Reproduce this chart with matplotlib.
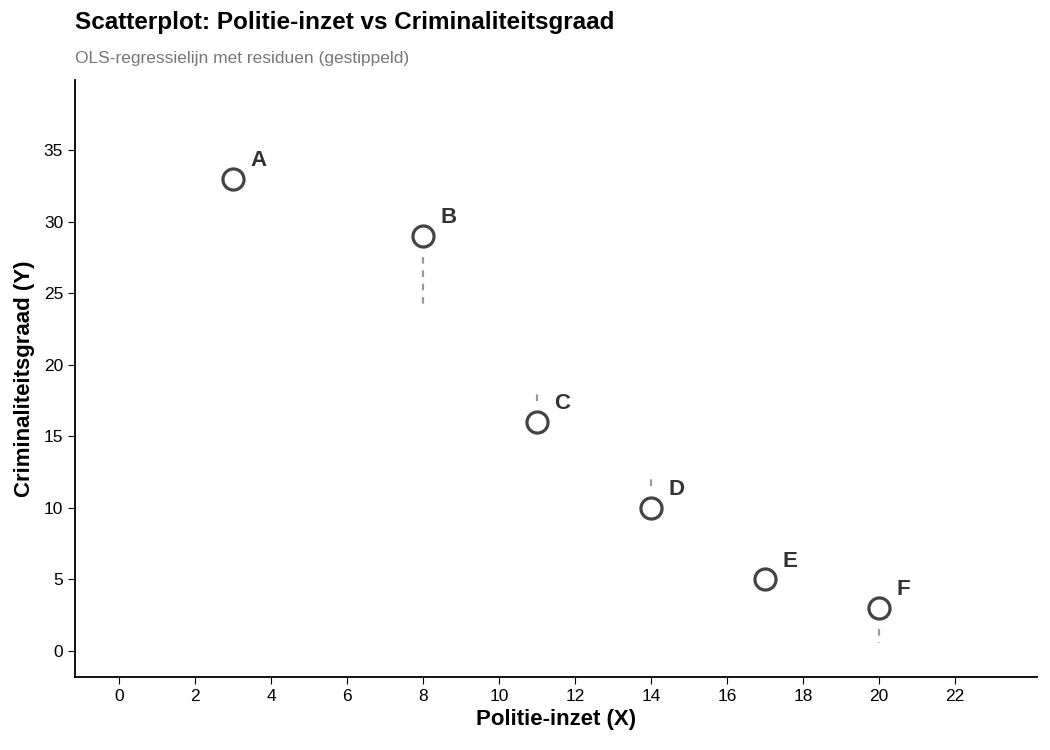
import matplotlib
matplotlib.use("Agg")
import matplotlib.pyplot as plt
import numpy as np

labels = ["A", "B", "C", "D", "E", "F"]
x = np.array([3, 8, 11, 14, 17, 20])
y = np.array([33, 29, 16, 10, 5, 3])

slope, intercept = np.polyfit(x, y, 1)
yhat = intercept + slope * x
gap = 1.5  # visual gap around markers (data units)

plt.rcParams['font.family'] = ['Liberation Sans', 'DejaVu Sans']
fig = plt.figure(figsize=(10.5, 7.5), dpi=100)
ax = fig.add_axes([75/1050, 1-677/750, (1037-75)/1050, (677-80)/750])

for xi, yi, yh in zip(x, y, yhat):
    r = yh - yi
    if abs(r) > gap:
        ax.plot([xi, xi], [yi + np.sign(r) * gap, yh], ls=(0, (3, 3)), color="#999999", lw=1.6, zorder=1)
ax.scatter(x, y, s=230, facecolor="white", edgecolor="#444444", linewidth=2.3, zorder=3)
for lab, xi, yi in zip(labels, x, y):
    ax.text(xi + 0.45, yi + 0.55, lab, fontsize=16, fontweight="bold", color="#333333", ha="left", va="bottom")

ax.set_xlim(-1.16, 24.16)
ax.set_ylim(-1.82, 39.9)
ax.set_xticks(range(0, 23, 2))
ax.set_yticks(range(0, 36, 5))
for s in ["top", "right"]:
    ax.spines[s].set_visible(False)
for s in ["left", "bottom"]:
    ax.spines[s].set_linewidth(1.3)
ax.tick_params(labelsize=12.5, colors="black", length=5)
ax.set_xlabel("Politie-inzet (X)", fontsize=16, fontweight="bold", labelpad=4)
ax.set_ylabel("Criminaliteitsgraad (Y)", fontsize=16, fontweight="bold", labelpad=6)

fig.text(75/1050, 1-22/750, "Scatterplot: Politie-inzet vs Criminaliteitsgraad", fontsize=17.5, fontweight="bold", va="center")
fig.text(75/1050, 1-58/750, "OLS-regressielijn met residuen (gestippeld)", fontsize=12.5, color="#777777", va="center")

fig.savefig("out.png", dpi=100)
